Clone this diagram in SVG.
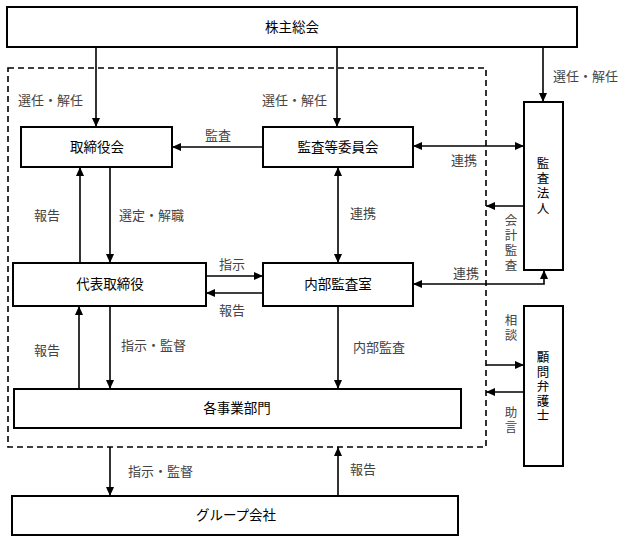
<svg xmlns="http://www.w3.org/2000/svg" width="629" height="542" viewBox="0 0 629 542">
<defs>
<marker id="ah" markerUnits="userSpaceOnUse" markerWidth="10" markerHeight="10" refX="9" refY="4" orient="auto-start-reverse">
<path d="M0,0 L9,4 L0,8 Z" fill="#000"/>
</marker>
<style>
.box{fill:#fff;stroke:#000;stroke-width:2}
.nt{font-family:"Liberation Serif","Noto Sans CJK JP",serif;font-size:13.5px;fill:#000;text-anchor:middle;dominant-baseline:central}
.vt{font-size:12.5px}
.lb{font-family:"Liberation Serif","Noto Sans CJK JP",serif;font-size:13px;fill:#444;dominant-baseline:central}
.vl{font-size:12.5px}
.c{text-anchor:middle}
.ln{fill:none;stroke:#000;stroke-width:1.6}
.ar{marker-end:url(#ah)}
.ab{marker-start:url(#ah);marker-end:url(#ah)}
.dash{fill:none;stroke:#000;stroke-width:1.6;stroke-dasharray:6 4}
</style>
</defs>
<rect width="629" height="542" fill="#fff"/>
<rect class="dash" x="8" y="68" width="478" height="379"/>

<g id="kabunushi"><rect class="box" x="7" y="7" width="570" height="40"/><text class="nt" x="292" y="27">株主総会</text></g>
<g id="torishimariyakukai"><rect class="box" x="21" y="127" width="151" height="40"/><text class="nt" x="97" y="147">取締役会</text></g>
<g id="kansatoiinkai"><rect class="box" x="263" y="127" width="150" height="40"/><text class="nt" x="338" y="147">監査等委員会</text></g>
<g id="kansahojin"><rect class="box" x="524" y="102" width="39" height="168"/><text class="nt vt" x="543"><tspan x="543" y="164">監</tspan><tspan x="543" y="179">査</tspan><tspan x="543" y="194">法</tspan><tspan x="543" y="209">人</tspan></text></g>
<g id="daihyo"><rect class="box" x="13" y="263" width="193" height="43"/><text class="nt" x="110" y="284">代表取締役</text></g>
<g id="naibu"><rect class="box" x="263" y="263" width="150" height="43"/><text class="nt" x="338" y="284">内部監査室</text></g>
<g id="komon"><rect class="box" x="524" y="306" width="39" height="160"/><text class="nt vt" x="543"><tspan x="543" y="358">顧</tspan><tspan x="543" y="372.5">問</tspan><tspan x="543" y="387">弁</tspan><tspan x="543" y="401.5">護</tspan><tspan x="543" y="416">士</tspan></text></g>
<g id="jigyobumon"><rect class="box" x="14" y="389" width="447" height="39"/><text class="nt" x="237" y="408">各事業部門</text></g>
<g id="group"><rect class="box" x="12" y="496" width="446" height="39"/><text class="nt" x="236" y="515">グループ会社</text></g>

<g id="connectors">
<line class="ln ar" x1="96" y1="47" x2="96" y2="127"/>
<line class="ln ar" x1="337" y1="47" x2="337" y2="127"/>
<line class="ln ar" x1="543" y1="47" x2="543" y2="102"/>
<line class="ln ar" x1="263" y1="147" x2="172" y2="147"/>
<line class="ln ar" x1="80" y1="263" x2="80" y2="167"/>
<line class="ln ar" x1="110" y1="167" x2="110" y2="263"/>
<line class="ln ab" x1="413" y1="146" x2="524" y2="146"/>
<line class="ln ab" x1="338" y1="167" x2="338" y2="263"/>
<line class="ln ar" x1="524" y1="206" x2="486" y2="206"/>
<line class="ln ar" x1="206" y1="276" x2="263" y2="276"/>
<line class="ln ar" x1="263" y1="293" x2="206" y2="293"/>
<path class="ln ab" d="M413,284 H544 V270"/>
<line class="ln ar" x1="79" y1="389" x2="79" y2="306"/>
<line class="ln ar" x1="110" y1="306" x2="110" y2="389"/>
<line class="ln ar" x1="338" y1="306" x2="338" y2="389"/>
<line class="ln ar" x1="486" y1="365" x2="524" y2="365"/>
<line class="ln ar" x1="524" y1="392" x2="486" y2="392"/>
<line class="ln ar" x1="110" y1="447" x2="110" y2="496"/>
<line class="ln ar" x1="338" y1="496" x2="338" y2="447"/>
</g>

<g id="labels">
<text class="lb" x="18" y="100">選任・解任</text>
<text class="lb" x="262" y="100">選任・解任</text>
<text class="lb" x="553" y="76">選任・解任</text>
<text class="lb c" x="218" y="135">監査</text>
<text class="lb c" x="47" y="215">報告</text>
<text class="lb" x="119" y="215">選定・解職</text>
<text class="lb" x="350" y="213">連携</text>
<text class="lb" x="451" y="160">連携</text>
<text class="lb" x="453" y="273">連携</text>
<text class="lb c" x="232" y="264">指示</text>
<text class="lb c" x="232" y="310">報告</text>
<text class="lb c" x="47" y="350">報告</text>
<text class="lb" x="121" y="345">指示・監督</text>
<text class="lb" x="353" y="347">内部監査</text>
<text class="lb" x="128" y="471">指示・監督</text>
<text class="lb" x="350" y="469">報告</text>
<text class="lb c vl" x="511"><tspan x="511" y="221">会</tspan><tspan x="511" y="236">計</tspan><tspan x="511" y="251">監</tspan><tspan x="511" y="266">査</tspan></text>
<text class="lb c vl" x="511"><tspan x="511" y="321">相</tspan><tspan x="511" y="336">談</tspan></text>
<text class="lb c vl" x="511"><tspan x="511" y="413">助</tspan><tspan x="511" y="428">言</tspan></text>
</g>
</svg>
